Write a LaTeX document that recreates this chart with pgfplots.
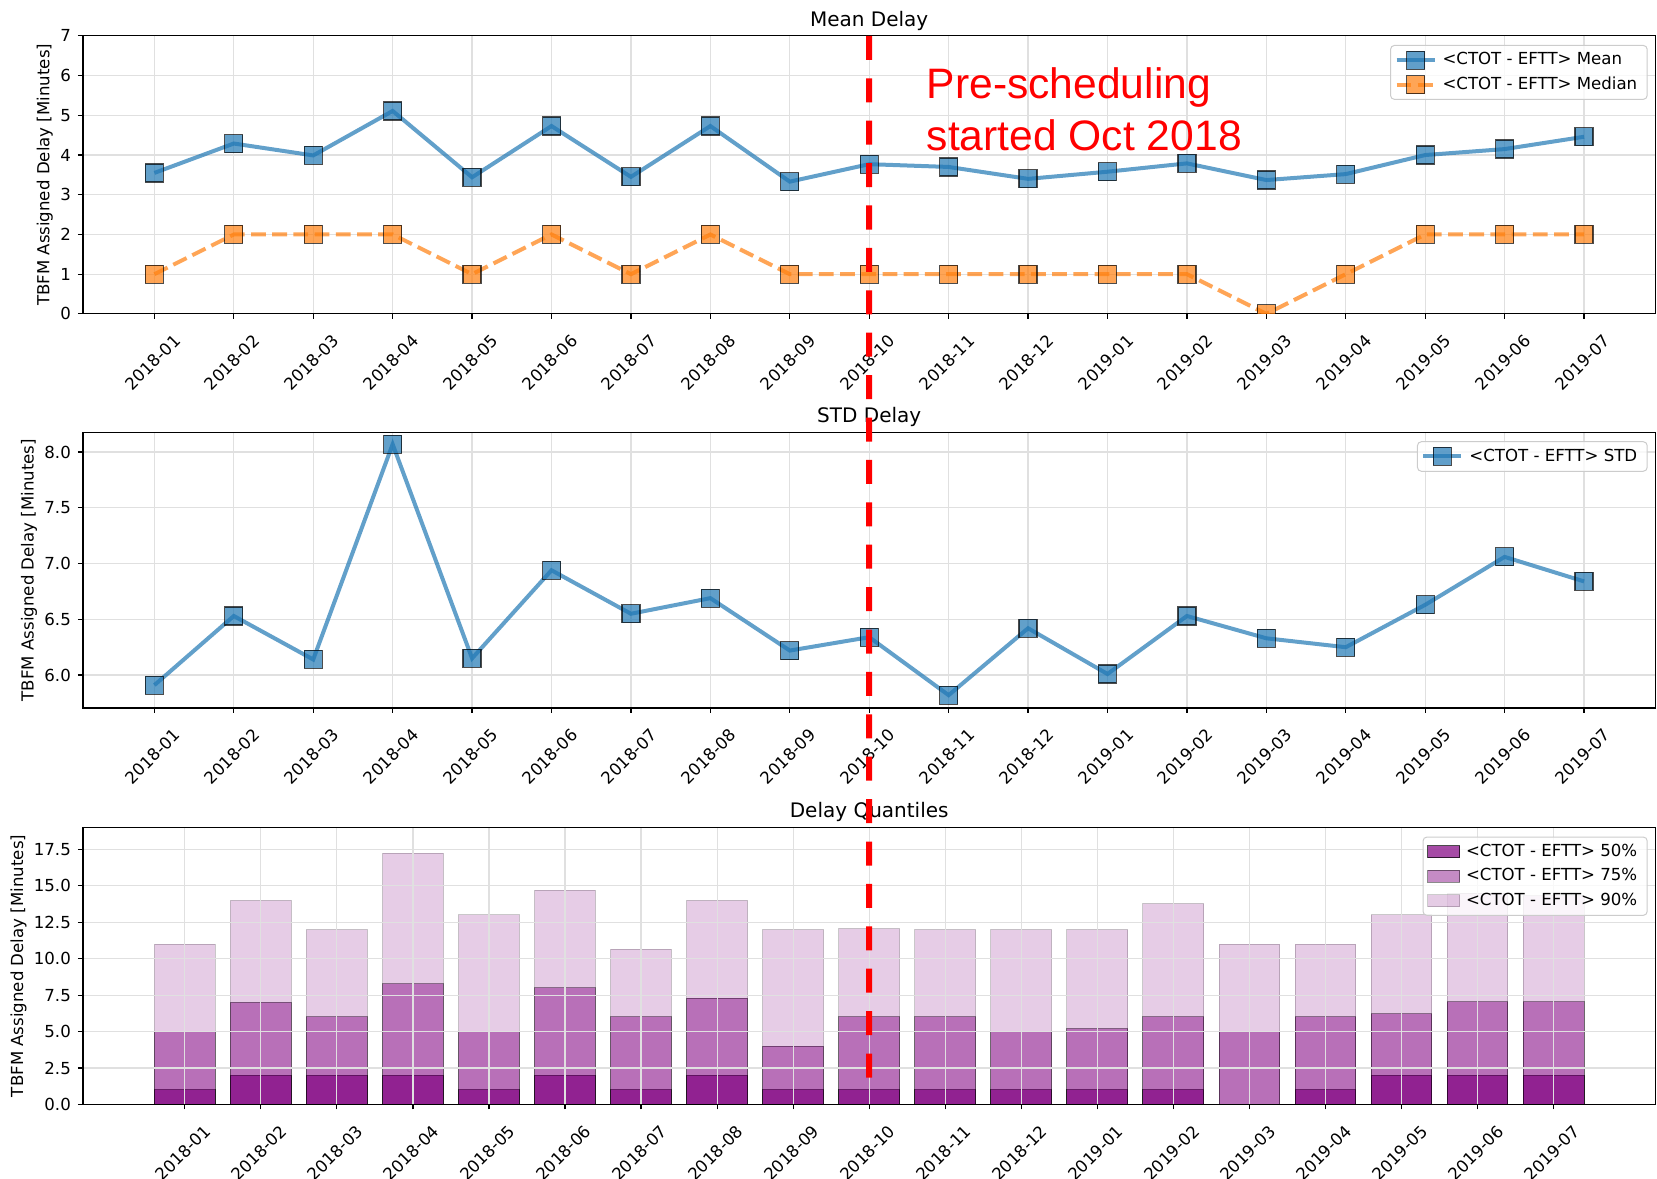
\documentclass[border=0pt]{standalone}
\usepackage{fontspec}
\setmainfont{DejaVu Sans}
\newfontfamily\redfont{Liberation Sans}
\usepackage{pgfplots}
\pgfplotsset{compat=1.18}
\usepackage{pgfplotstable}

\definecolor{tabblue}{HTML}{1F77B4}
\definecolor{taborange}{HTML}{FF7F0E}
\definecolor{mplpurple}{HTML}{800080}
\definecolor{gridgray}{HTML}{E0E0E0}
\definecolor{legframe}{HTML}{CCCCCC}

\pgfplotstableread{
x mean median std q50 q75 q90
0 3.55 1 5.91 1 5.00 11.00
1 4.29 2 6.53 2 7.00 14.00
2 3.99 2 6.14 2 6.00 12.00
3 5.11 2 8.07 2 8.27 17.25
4 3.44 1 6.15 1 5.00 13.00
5 4.73 2 6.94 2 8.00 14.71
6 3.45 1 6.55 1 6.00 10.65
7 4.73 2 6.69 2 7.29 14.00
8 3.33 1 6.22 1 4.00 12.00
9 3.77 1 6.34 1 6.00 12.06
10 3.70 1 5.82 1 6.00 12.00
11 3.40 1 6.42 1 5.00 12.00
12 3.58 1 6.01 1 5.20 12.00
13 3.79 1 6.53 1 6.00 13.78
14 3.37 0 6.33 0 5.00 11.00
15 3.52 1 6.25 1 6.00 11.00
16 4.00 2 6.63 2 6.21 13.00
17 4.15 2 7.06 2 7.04 14.50
18 4.46 2 6.84 2 7.04 14.30
}\datatable

\pgfplotsset{
  mplbase/.style={
    scale only axis, width=786.3pt,
    anchor=south west,
    axis line style={black, line width=0.6pt},
    every tick/.style={black, line width=0.6pt},
    tick align=outside, major tick length=2.5pt,
    xtick pos=left, ytick pos=left,
    xmajorgrids, ymajorgrids,
    grid style={gridgray, line width=0.6pt},
    xtick={0,...,18},
    xticklabels={2018-01,2018-02,2018-03,2018-04,2018-05,2018-06,2018-07,2018-08,2018-09,2018-10,2018-11,2018-12,2019-01,2019-02,2019-03,2019-04,2019-05,2019-06,2019-07},
    tick label style={font=\fontsize{8.3}{10}\selectfont},
    xticklabel style={xshift=-0.85pt, yshift=-21.75pt, rotate=45, anchor=center},
    every axis title shift=0pt,
    title style={font=\fontsize{10}{12}\selectfont, at={(0.5,1)}, anchor=base, yshift=4.8pt},
    ylabel style={font=\fontsize{8.3}{10}\selectfont, yshift=-3.2pt},
    legend cell align=left,
    legend style={at={(1,1)}, anchor=north east, xshift=-3.9pt, yshift=-4.5pt,
      draw=legframe, line width=0.5pt, rounded corners=2pt,
      fill=white, fill opacity=0.8, draw opacity=1, text opacity=1,
      font=\fontsize{8.3}{10}\selectfont, inner xsep=2pt, inner ysep=1.3pt,
      row sep=0pt,
      nodes={text height=6.4pt, text depth=1.8pt, inner ysep=2pt, inner xsep=3pt}},
  },
  linelegend/.style={
    legend image code/.code={\draw[sharp corners, mark repeat=2, mark phase=2, ##1] plot coordinates {(0pt,0pt) (9.5pt,0pt) (19pt,0pt)};},
  },
  barlegend/.style={
    legend image code/.code={\draw[##1, sharp corners] (0pt,-3pt) rectangle (16pt,3pt);},
  },
}

\begin{document}
\begin{tikzpicture}
\useasboundingbox (0,0) rectangle (828.5pt,589pt);

% ---------------- Mean Delay ----------------
\begin{axis}[mplbase, linelegend, at={(41.45pt,432.05pt)}, height=139pt,
  xmin=-0.9, xmax=18.9, ymin=0, ymax=7,
  ytick={0,1,2,3,4,5,6,7}, yticklabels={0,1,2,3,4,5,6,7},
  title={Mean Delay}, ylabel={TBFM Assigned Delay [Minutes]},
  clip marker paths=true]
\addplot[tabblue, line width=2pt, opacity=0.7, mark=square*, mark size=4.5pt,
  mark options={solid, fill=tabblue, draw=black, line width=0.6pt}]
  table[x=x, y=mean]{\datatable};
\addlegendentry{<CTOT - EFTT> Mean}
\addplot[taborange, line width=2pt, opacity=0.7, dash pattern=on 7.4pt off 3.2pt,
  mark=square*, mark size=4.5pt,
  mark options={solid, fill=taborange, draw=black, line width=0.6pt}]
  table[x=x, y=median]{\datatable};
\addlegendentry{<CTOT - EFTT> Median}
\coordinate (rtop) at (axis cs:9,7);
\node[anchor=base west, text=red, inner sep=0pt, font=\redfont\fontsize{21.3}{25}\selectfont]
  at (axis cs:9.72,5.43) {Pre-scheduling};
\node[anchor=base west, text=red, inner sep=0pt, font=\redfont\fontsize{21.3}{25}\selectfont]
  at (axis cs:9.72,4.125) {started Oct 2018};
\end{axis}

% ---------------- STD Delay ----------------
\begin{axis}[mplbase, linelegend, at={(41.45pt,235pt)}, height=137.9pt,
  xmin=-0.9, xmax=18.9, ymin=5.705, ymax=8.178,
  ytick={6,6.5,7,7.5,8}, yticklabels={6.0,6.5,7.0,7.5,8.0},
  title={STD Delay}, ylabel={TBFM Assigned Delay [Minutes]}]
\addplot[tabblue, line width=2pt, opacity=0.7, mark=square*, mark size=4.5pt,
  mark options={solid, fill=tabblue, draw=black, line width=0.6pt}]
  table[x=x, y=std]{\datatable};
\addlegendentry{<CTOT - EFTT> STD}
\end{axis}

% ---------------- Delay Quantiles ----------------
\begin{axis}[mplbase, barlegend, at={(41.45pt,36.8pt)}, height=138.45pt,
  xmin=-1.34, xmax=19.34, ymin=0, ymax=19,
  ytick={0,2.5,5,7.5,10,12.5,15,17.5},
  yticklabels={0.0,2.5,5.0,7.5,10.0,12.5,15.0,17.5},
  title={Delay Quantiles}, ylabel={TBFM Assigned Delay [Minutes]},
  axis on top]
\addplot[ybar, bar width=0.8, bar shift=0pt, fill=mplpurple, draw=black,
  fill opacity=0.7, draw opacity=0.7, line width=0.5pt]
  table[x=x, y=q50]{\datatable};
\addlegendentry{<CTOT - EFTT> 50\%}
\addplot[ybar, bar width=0.8, bar shift=0pt, fill=mplpurple, draw=black,
  fill opacity=0.45, draw opacity=0.45, line width=0.5pt]
  table[x=x, y=q75]{\datatable};
\addlegendentry{<CTOT - EFTT> 75\%}
\addplot[ybar, bar width=0.8, bar shift=0pt, fill=mplpurple, draw=black,
  fill opacity=0.2, draw opacity=0.2, line width=0.5pt]
  table[x=x, y=q90]{\datatable};
\addlegendentry{<CTOT - EFTT> 90\%}
\coordinate (rbot) at (axis cs:9,1.6);
\end{axis}

\draw[red, line width=3pt, dash pattern=on 12pt off 9.2pt] (rtop) -- (rbot);
\end{tikzpicture}
\end{document}
